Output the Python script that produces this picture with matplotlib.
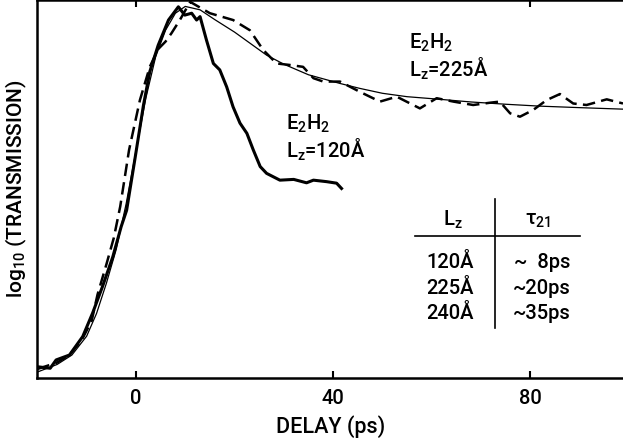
import matplotlib
matplotlib.use('Agg')
import matplotlib.pyplot as plt

plt.rcParams['font.family'] = ['Roboto', 'DejaVu Sans']
plt.rcParams['font.weight'] = 'medium'
plt.rcParams['axes.labelweight'] = 'medium'
plt.rcParams['mathtext.fontset'] = 'custom'
plt.rcParams['mathtext.rm'] = 'Roboto:medium'
plt.rcParams['mathtext.it'] = 'Roboto:medium'

# 120 A sample (thick solid)
x120 = [-20, -17.4, -16.2, -13.5, -10.8, -8.8, -6.8, -4.7, -3.0, -1.9, -0.2, 1.5, 2.8, 4.5,
        6.6, 8.6, 9.9, 11.3, 12.3, 13.0, 14.3, 15.7, 17.0, 18.4, 19.7, 21.1, 22.5, 23.8,
        25.2, 26.5, 29.2, 32.0, 34.6, 36.0, 38.7, 40.7, 41.7]
y120 = [2.9, 2.5, 4.7, 6.0, 10.9, 17.1, 24.1, 32.0, 40.0, 44.3, 58.0, 72.0, 81.0, 88.0,
        94.7, 98.2, 96.0, 96.5, 94.7, 95.6, 89.4, 83.2, 81.5, 77.0, 71.7, 67.4, 64.7, 60.3,
        55.9, 54.1, 52.3, 52.5, 51.6, 52.3, 51.9, 51.5, 50.1]

# 225 A sample (dashed)
x225 = [-20, -16, -13.5, -11, -9, -7.8, -6, -4.5, -3.2, -1.4, 0.8, 2.8, 4.5, 6.0, 7.2,
        8.9, 11.0, 13.0, 15.0, 19.7, 23.1, 25.8, 28.5, 31.2, 33.9, 36.0, 38.0, 41.4,
        45.4, 49.5, 52.9, 57.6, 61.0, 64.4, 68.4, 71.8, 73.8, 75.9, 77.9, 80.6, 83.3,
        86.0, 88.7, 91.4, 95.5, 98.8]
y225 = [2.3, 4.0, 6.0, 10.0, 15.0, 22.0, 30.0, 37.0, 45.3, 60.3, 73.5, 82.3, 87.0, 89.0,
        91.2, 94.7, 99.5, 98.0, 96.5, 94.7, 92.0, 86.8, 83.2, 82.8, 82.3, 79.3, 78.4, 78.4,
        75.7, 73.1, 74.4, 71.3, 74.0, 73.1, 72.2, 72.8, 73.1, 70.0, 69.1, 70.9, 73.5,
        75.1, 72.6, 72.2, 73.7, 72.6]

# thin fitted curve
xfit = [-20, -16, -13, -10, -8, -6, -4, -2, 0, 2, 4, 6, 8, 10, 13, 16, 20, 26.5, 30,
        35, 41.4, 45.4, 50, 55, 61.7, 68, 75, 81.9, 90, 98.8]
yfit = [1.5, 3.5, 6.0, 11.0, 17.0, 25.0, 34.0, 46.0, 60.0, 74.0, 85.0, 92.0, 96.5,
        98.3, 97.4, 94.8, 91.5, 85.4, 83.0, 80.2, 77.9, 76.6, 75.3, 74.4, 73.7, 73.0,
        72.4, 71.9, 71.5, 71.1]

xticks = [0, 40, 80]
table_lz = ['120Å', '225Å', '240Å']
table_tau = ['~  8ps', '~20ps', '~35ps']

fig = plt.figure(figsize=(6.23, 4.40), dpi=100)
ax = fig.add_axes([0.060, 0.1416, 0.940, 0.8584])

ax.plot(xfit, yfit, color='black', lw=0.9)
ax.plot(x225, y225, color='black', lw=1.8, dashes=(5, 2.5))
ax.plot(x120, y120, color='black', lw=2.2)

ax.set_xlim(-20, 98.8)
ax.set_ylim(0, 100)
ax.set_xticks(xticks)
ax.set_yticks([])
ax.tick_params(axis='x', direction='in', length=5, width=1.5, labelsize=14.5, pad=8)
ax.spines['right'].set_visible(False)
for s in ['left', 'bottom', 'top']:
    ax.spines[s].set_linewidth(1.8)

top = ax.secondary_xaxis('top')
top.set_xticks([0, 80])
top.tick_params(direction='in', length=5, width=1.5, labeltop=False)
top.spines['top'].set_visible(False)

ax.set_xlabel('DELAY (ps)', fontsize=15.5, labelpad=5)
ax.set_ylabel('log$_{10}$ (TRANSMISSION)', fontsize=15, labelpad=6)

ax.text(55.4, 88.6, 'E$_2$H$_2$', fontsize=14.5, va='center')
ax.text(55.4, 81.7, 'L$_z$=225Å', fontsize=14.5, va='center')
ax.text(30.4, 67.3, 'E$_2$H$_2$', fontsize=14.5, va='center')
ax.text(30.4, 60.4, 'L$_z$=120Å', fontsize=14.5, va='center')

# table
ax.text(64.3, 41.7, 'L$_z$', fontsize=14.5, ha='center', va='center')
ax.text(81.5, 41.7, 'τ$_{21}$', fontsize=14.5, ha='center', va='center')
ax.plot([56.6, 90], [37.4, 37.4], color='black', lw=1.2)
ax.plot([72.9, 72.9], [13.1, 47.3], color='black', lw=1.2)
for lz, tau, yy in zip(table_lz, table_tau, [30.6, 23.6, 17.0]):
    ax.text(63.7, yy, lz, fontsize=14.5, ha='center', va='center')
    ax.text(82.4, yy, tau, fontsize=14.5, ha='center', va='center')

fig.savefig('out.png', dpi=100)
